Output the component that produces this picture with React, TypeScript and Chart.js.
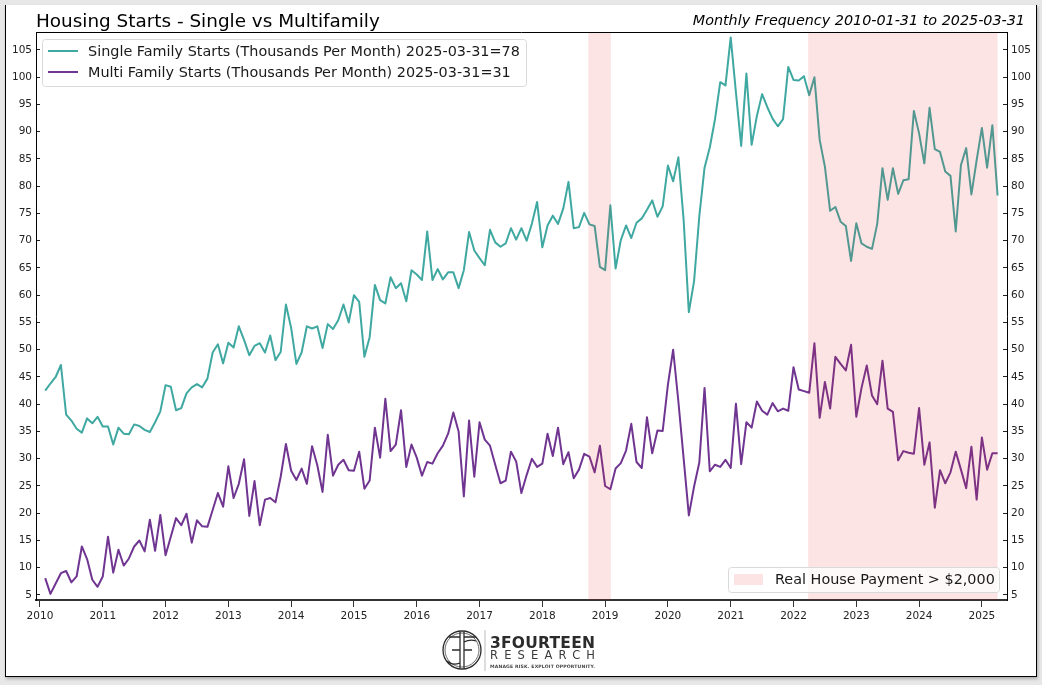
import { useEffect, useRef } from "react";
import { Chart, registerables } from "chart.js";

Chart.register(...registerables);

const FONT = "'DejaVu Sans', sans-serif";

const singleFamily = [
  42.5, 43.8, 45, 47.2, 38.1, 37, 35.5, 34.8, 37.4, 36.5, 37.7, 35.9,
  35.9, 32.6, 35.7, 34.6, 34.5, 36.3, 36, 35.3, 34.9, 36.7, 38.7, 43.5,
  43.2, 38.9, 39.3, 42, 43.1, 43.7, 43.1, 44.7, 49.5, 51, 47.5, 51.3,
  50.4, 54.3, 51.8, 49, 50.7, 51.2, 49.5, 52.6, 48.1, 49.6, 58.3, 54,
  47.4, 49.5, 54.3, 53.9, 54.3, 50.3, 54.7, 53.8, 55.4, 58.3, 55, 60,
  58.8, 48.7, 52.3, 61.9, 59.1, 58.5, 63.3, 61.3, 62.2, 58.9, 64.6, 63.8,
  62.8, 71.7, 62.8, 64.8, 62.9, 64.2, 64.2, 61.3, 64.6, 71.6, 68.2, 66.8,
  65.5, 72, 69.7, 68.9, 69.5, 72.3, 70.2, 72.3, 70, 73.1, 77.1, 68.8,
  72.8, 74.6, 73.1, 75.9, 80.8, 72.3, 72.5, 75.1, 73, 72.7, 65.2, 64.6,
  76.5, 64.9, 70.1, 72.8, 70.5, 73.3, 74.1, 75.7, 77.4, 74.4, 76.3, 83.8,
  80.9, 85.3, 73.9, 56.9, 62.6, 74.5, 83.4, 87.1, 92.3, 99.1, 98.5, 107.3,
  97.2, 87.4, 100.7, 87.6, 92.9, 96.9, 94.5, 92.4, 91, 92.3, 101.9, 99.5,
  99.4, 100.2, 96.7, 100, 88.5, 83.6, 75.5, 76.2, 73.5, 72.7, 66.3, 73.2,
  69.5, 68.9, 68.5, 73.1, 83.3, 77.5, 83.3, 78.6, 81.1, 81.3, 93.8, 89.7,
  84.2, 94.4, 86.8, 86.3, 82.7, 81.9, 71.7, 83.9, 87, 78.5, 84.8, 90.7,
  83.4, 91.2, 78.3,
];

const multiFamily = [
  8.1, 5.2, 7.1, 9, 9.4, 7.3, 8.4, 13.9, 11.6, 7.8, 6.5, 8.4,
  15.7, 9.1, 13.3, 10.4, 11.7, 13.9, 15, 13, 18.8, 13.1, 19.7, 12.3,
  15.7, 19.1, 17.8, 19.9, 14.6, 18.7, 17.6, 17.5, 20.6, 23.7, 21.2, 28.6,
  22.8, 25.4, 29.9, 19.5, 25.9, 17.8, 22.5, 22.8, 22, 26.7, 32.7, 27.8,
  26.1, 28.2, 25.4, 32.3, 28.8, 23.9, 34.4, 26.9, 28.9, 29.8, 27.9, 27.8,
  31.3, 24.5, 26, 35.7, 30.2, 41, 31.4, 32.6, 38.9, 28.5, 32.6, 30.2,
  26.9, 29.4, 29.1, 31, 32.4, 34.6, 38.5, 35, 23.1, 37, 26.7, 36.7,
  33.5, 32.4, 28.9, 25.5, 26, 31.3, 29.5, 23.7, 27, 30, 28.5, 29.1,
  34.6, 30.5, 35.7, 29, 31.2, 26.4, 28, 30.9, 30.4, 27.5, 32.4, 25,
  24.4, 28.2, 29.2, 31.5, 36.4, 29.4, 28.3, 37.6, 31, 35.2, 35.1, 43.6,
  50, 40.5, 30.1, 19.6, 24.9, 29.3, 43, 27.7, 28.9, 28.5, 29.8, 28.3,
  40.1, 29, 36.7, 35.7, 40.5, 38.8, 38.1, 40.2, 38.7, 39.2, 38.8, 46.8,
  42.7, 42.4, 42.1, 51.2, 37.5, 44.1, 39.2, 48.7, 47.4, 46.2, 50.9, 37.7,
  43, 47.1, 41.6, 40, 48, 39.2, 38.6, 29.7, 31.4, 31.1, 30.9, 39.3,
  28.9, 33, 21, 27.9, 25.5, 27.5, 31.3, 28, 24.6, 32.2, 22.5, 33.9,
  28, 31, 31,
];

const yearLabels = [
  "2010", "2011", "2012", "2013", "2014", "2015", "2016", "2017",
  "2018", "2019", "2020", "2021", "2022", "2023", "2024", "2025",
];
const yTickValues = [
  5, 10, 15, 20, 25, 30, 35, 40, 45, 50, 55, 60, 65, 70, 75, 80, 85, 90, 95, 100, 105,
];

// months counted from the start of 2010, first and last month end of each band
const shadedBands = [
  [104.8, 109.1],
  [146.8, 183],
];

const SINGLE_COLOR = "#3fa8a1";
const MULTI_COLOR = "#6f3591";
const SHADE_COLOR = "rgba(232, 30, 30, 0.12)";

const legendBox = (ctx: CanvasRenderingContext2D, x: number, y: number, w: number, h: number) => {
  ctx.beginPath();
  ctx.roundRect(x + 0.5, y + 0.5, w, h, 3);
  ctx.fillStyle = "rgba(255, 255, 255, 0.8)";
  ctx.fill();
  ctx.strokeStyle = "#d9d9d9";
  ctx.lineWidth = 1;
  ctx.stroke();
};

const housingPlugin = {
  id: "housing",
  afterDatasetsDraw(chart: any) {
    const { ctx, chartArea, scales } = chart;
    ctx.save();
    ctx.fillStyle = SHADE_COLOR;
    shadedBands.forEach(([from, to]) => {
      const x1 = scales.x.getPixelForValue(from);
      const x2 = scales.x.getPixelForValue(to);
      ctx.fillRect(x1, chartArea.top, x2 - x1, chartArea.bottom - chartArea.top);
    });
    ctx.restore();
  },
  afterDraw(chart: any) {
    const { ctx, chartArea } = chart;
    ctx.save();
    // top edge of the axes box
    ctx.strokeStyle = "#000";
    ctx.lineWidth = 1;
    ctx.beginPath();
    ctx.moveTo(chartArea.left, chartArea.top + 0.5);
    ctx.lineTo(chartArea.right, chartArea.top + 0.5);
    ctx.stroke();

    ctx.fillStyle = "#000";
    ctx.textBaseline = "alphabetic";
    ctx.textAlign = "left";
    ctx.font = `18.4px ${FONT}`;
    ctx.fillText("Housing Starts - Single vs Multifamily", 36, 27);
    ctx.textAlign = "right";
    ctx.font = `italic 14.35px ${FONT}`;
    ctx.fillText("Monthly Frequency 2010-01-31 to 2025-03-31", 1025, 25);

    // series legend
    legendBox(ctx, 42, 39, 484, 47);
    ctx.lineWidth = 2;
    ctx.strokeStyle = SINGLE_COLOR;
    ctx.beginPath();
    ctx.moveTo(48, 51);
    ctx.lineTo(78, 51);
    ctx.stroke();
    ctx.strokeStyle = MULTI_COLOR;
    ctx.beginPath();
    ctx.moveTo(48, 72);
    ctx.lineTo(78, 72);
    ctx.stroke();
    ctx.fillStyle = "#1a1a1a";
    ctx.textAlign = "left";
    ctx.font = `14.4px ${FONT}`;
    ctx.fillText("Single Family Starts (Thousands Per Month) 2025-03-31=78", 88, 56);
    ctx.fillText("Multi Family Starts (Thousands Per Month) 2025-03-31=31", 88, 77);

    // shaded band legend
    legendBox(ctx, 728, 567, 271, 25);
    ctx.fillStyle = SHADE_COLOR;
    ctx.fillRect(734, 574, 29, 11);
    ctx.fillStyle = "#1a1a1a";
    ctx.fillText("Real House Payment > $2,000", 775, 584);
    ctx.restore();
  },
};

function Logo() {
  return (
    <svg
      width={180}
      height={50}
      viewBox="0 0 180 50"
      style={{ position: "absolute", left: 430, top: 627 }}
    >
      <g fill="none" stroke="#2b2b2b" strokeWidth={1.3}>
        <circle cx={32} cy={23} r={19} />
        <circle cx={32} cy={23} r={17} strokeWidth={0.7} />
        <path d="M30 5 V41 M34 5 V41 M19 10 H30 M34 10 H46 M22 23 H30 M34 23 H42 M17 34 Q22 39 30 36 M46 14 Q40 12 34 15" />
      </g>
      <line x1={55} y1={3} x2={55} y2={44} stroke="#bbb" strokeWidth={1} />
      <text x={60} y={21} fontFamily={FONT} fontWeight="bold" fontSize={15.5} fill="#2b2b2b" textLength={105}>
        3FOURTEEN
      </text>
      <text x={60} y={32} fontFamily={FONT} fontSize={11.5} fill="#3a3a3a" textLength={105}>
        RESEARCH
      </text>
      <text x={60} y={41} fontFamily={FONT} fontWeight="bold" fontSize={4.6} fill="#444" textLength={105}>
        MANAGE RISK. EXPLOIT OPPORTUNITY.
      </text>
    </svg>
  );
}

export default function App() {
  const canvasRef = useRef<HTMLCanvasElement | null>(null);

  useEffect(() => {
    const canvas = canvasRef.current;
    if (!canvas) return;

    const toPoints = (values: number[]) => values.map((y, i) => ({ x: i + 1, y }));
    const tickStyle = { color: "#222", font: { family: FONT, size: 10.5 } };

    const chart = new Chart(canvas, {
      type: "line",
      data: {
        datasets: [
          {
            label: "Single Family Starts (Thousands Per Month) 2025-03-31=78",
            data: toPoints(singleFamily),
            borderColor: SINGLE_COLOR,
            borderWidth: 2,
            borderJoinStyle: "round",
            pointRadius: 0,
            tension: 0,
          },
          {
            label: "Multi Family Starts (Thousands Per Month) 2025-03-31=31",
            data: toPoints(multiFamily),
            borderColor: MULTI_COLOR,
            borderWidth: 2,
            borderJoinStyle: "round",
            pointRadius: 0,
            tension: 0,
          },
        ],
      },
      options: {
        animation: false,
        responsive: false,
        parsing: false,
        layout: { padding: { top: 32, left: 0, right: 0, bottom: 0 } },
        plugins: { legend: { display: false }, tooltip: { enabled: false } },
        scales: {
          x: {
            type: "linear",
            min: -0.76,
            max: 184.8,
            afterBuildTicks: (scale: any) => {
              scale.ticks = yearLabels.map((_, i) => ({ value: i * 12 }));
            },
            afterFit: (scale: any) => {
              scale.height = 85;
            },
            grid: { drawOnChartArea: false, tickLength: 7, color: "#333", tickWidth: 1 },
            border: { color: "#333", width: 2 },
            ticks: {
              ...tickStyle,
              autoSkip: false,
              maxRotation: 0,
              padding: 3,
              callback: (value: any) => yearLabels[Number(value) / 12],
            },
          },
          y: {
            type: "linear",
            position: "left",
            min: 4.08,
            max: 108.3,
            afterBuildTicks: (scale: any) => {
              scale.ticks = yTickValues.map((value) => ({ value }));
            },
            afterFit: (scale: any) => {
              scale.width = 36;
            },
            grid: { drawOnChartArea: false, tickLength: -4, color: "#222" },
            border: { color: "#000", width: 1 },
            ticks: { ...tickStyle, padding: 8, autoSkip: false },
          },
          y2: {
            type: "linear",
            position: "right",
            min: 4.08,
            max: 108.3,
            afterBuildTicks: (scale: any) => {
              scale.ticks = yTickValues.map((value) => ({ value }));
            },
            afterFit: (scale: any) => {
              scale.width = 35;
            },
            grid: { drawOnChartArea: false, tickLength: -4, color: "#222" },
            border: { color: "#000", width: 1 },
            ticks: { ...tickStyle, padding: 8, autoSkip: false },
          },
        },
      },
      plugins: [housingPlugin],
    } as any);

    return () => {
      chart.destroy();
    };
  }, []);

  return (
    <div
      style={{
        position: "absolute",
        left: 0,
        top: 0,
        width: 1042,
        height: 685,
        background: "#e7e7e7",
        overflow: "hidden",
      }}
    >
      <div
        style={{
          position: "absolute",
          left: 5,
          top: 5,
          width: 1030,
          height: 671,
          background: "#fff",
          borderLeft: "1px solid #000",
          borderRight: "1px solid #000",
          borderBottom: "1px solid #000",
          boxShadow: "1px 2px 3px rgba(0,0,0,0.25)",
        }}
      />
      <canvas
        ref={canvasRef}
        width={1042}
        height={685}
        style={{ position: "absolute", left: 0, top: 0 }}
      />
      <Logo />
    </div>
  );
}
